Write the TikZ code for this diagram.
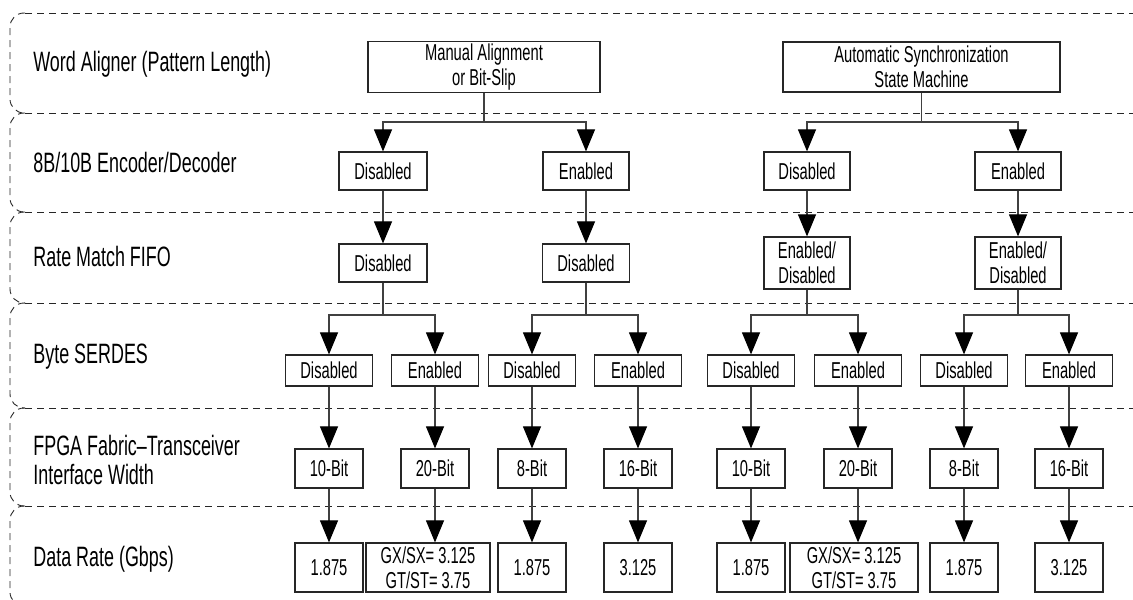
\documentclass[tikz,border=0pt]{standalone}
\usepackage{fontspec}
\setmainfont{Liberation Sans}[FakeStretch=0.64]
\usetikzlibrary{arrows.meta}

\tikzset{
  band/.style={dash pattern=on 3.5pt off 2.5pt, line width=0.45pt, black!85, rounded corners=7pt},
  rowlabel/.style={anchor=base west, inner sep=0pt, align=left, font=\fontsize{14}{14.5}\selectfont},
  box/.style={draw=black!85, line width=0.6pt, inner sep=1pt, align=center, font=\fontsize{11.5}{12.5}\selectfont},
  conn/.style={line width=0.55pt, black!75},
  arr/.style={conn, -{Triangle[length=11pt,width=9pt,color=black]}},
}

\begin{document}
\begin{tikzpicture}[x=0.5pt, y=-0.5pt]
\useasboundingbox (0,0) rectangle (1133,599);

% dashed bands
\foreach \t/\b in {13/113,113/212,212/303,303/408,408/506,506/606}
  \draw[band] (25,\t) -- (10,\t) -- (10,\b) -- (25,\b);
\foreach \y in {13,113,212,303,408,506}
  \draw[band] (25,\y) -- (1133,\y);

% row labels
\node[rowlabel] (lwa) at (33,72) {Word Aligner (Pattern Length)};
\node[rowlabel] (lenc) at (33,172) {8B/10B Encoder/Decoder};
\node[rowlabel] (lrm) at (33,266) {Rate Match FIFO};
\node[rowlabel] (lser) at (33,363) {Byte SERDES};
\node[rowlabel, anchor=west] (lfp) at (33,460) {FPGA Fabric--Transceiver\\Interface Width};
\node[rowlabel] (ldr) at (33,566) {Data Rate (Gbps)};

% word aligner
\node[box, minimum width=116pt, minimum height=25pt] (wa1) at (484,67) {Manual Alignment\\or Bit-Slip};
\node[box, minimum width=138.5pt, minimum height=25pt] (wa2) at (921.5,67) {Automatic Synchronization\\State Machine};

% 8B/10B
\node[box, minimum width=44pt, minimum height=19pt] (enc1) at (383,171) {Disabled};
\node[box, minimum width=43pt, minimum height=19pt] (enc2) at (586,171) {Enabled};
\node[box, minimum width=43pt, minimum height=19pt] (enc3) at (807,171) {Disabled};
\node[box, minimum width=43pt, minimum height=19pt] (enc4) at (1018,171) {Enabled};

% rate match
\node[box, minimum width=44pt, minimum height=19pt] (rm1) at (383,263) {Disabled};
\node[box, minimum width=43.5pt, minimum height=19pt] (rm2) at (586,263) {Disabled};
\node[box, minimum width=43pt, minimum height=26pt] (rm3) at (807,263) {Enabled/\\Disabled};
\node[box, minimum width=43pt, minimum height=26pt] (rm4) at (1018,263) {Enabled/\\Disabled};

% byte serdes
\node[box, minimum width=43.5pt, minimum height=15.5pt] (ser1) at (329,370.5) {Disabled};
\node[box, minimum width=43.5pt, minimum height=15.5pt] (ser2) at (435,370.5) {Enabled};
\node[box, minimum width=43.5pt, minimum height=15.5pt] (ser3) at (532,370.5) {Disabled};
\node[box, minimum width=43.5pt, minimum height=15.5pt] (ser4) at (638,370.5) {Enabled};
\node[box, minimum width=43.5pt, minimum height=15.5pt] (ser5) at (751,370.5) {Disabled};
\node[box, minimum width=43.5pt, minimum height=15.5pt] (ser6) at (858,370.5) {Enabled};
\node[box, minimum width=43.5pt, minimum height=15.5pt] (ser7) at (964,370.5) {Disabled};
\node[box, minimum width=43.5pt, minimum height=15.5pt] (ser8) at (1069,370.5) {Enabled};

% interface width
\node[box, minimum width=34pt, minimum height=19.5pt] (fp1) at (329,468.5) {10-Bit};
\node[box, minimum width=34pt, minimum height=19.5pt] (fp2) at (435,468.5) {20-Bit};
\node[box, minimum width=34pt, minimum height=19.5pt] (fp3) at (532,468.5) {8-Bit};
\node[box, minimum width=34pt, minimum height=19.5pt] (fp4) at (638,468.5) {16-Bit};
\node[box, minimum width=34pt, minimum height=19.5pt] (fp5) at (751,468.5) {10-Bit};
\node[box, minimum width=34pt, minimum height=19.5pt] (fp6) at (858,468.5) {20-Bit};
\node[box, minimum width=34pt, minimum height=19.5pt] (fp7) at (964,468.5) {8-Bit};
\node[box, minimum width=34pt, minimum height=19.5pt] (fp8) at (1069,468.5) {16-Bit};

% data rate
\node[box, minimum width=34pt, minimum height=24.5pt] (dr1) at (329,567.5) {1.875};
\node[box, minimum width=62pt, minimum height=24.5pt] (dr2) at (428,567.5) {GX/SX= 3.125\\GT/ST= 3.75};
\node[box, minimum width=34pt, minimum height=24.5pt] (dr3) at (532,567.5) {1.875};
\node[box, minimum width=34pt, minimum height=24.5pt] (dr4) at (638,567.5) {3.125};
\node[box, minimum width=34pt, minimum height=24.5pt] (dr5) at (751,567.5) {1.875};
\node[box, minimum width=64pt, minimum height=24.5pt] (dr6) at (854,567.5) {GX/SX= 3.125\\GT/ST= 3.75};
\node[box, minimum width=34pt, minimum height=24.5pt] (dr7) at (964,567.5) {1.875};
\node[box, minimum width=34pt, minimum height=24.5pt] (dr8) at (1069,567.5) {3.125};

% branches
\coordinate (j1) at (wa1.south |- 0,122);
\coordinate (j2) at (wa2.south |- 0,122);
\coordinate (j3) at (rm1.south |- 0,315);
\coordinate (j4) at (rm2.south |- 0,315);
\coordinate (j5) at (rm3.south |- 0,315);
\coordinate (j6) at (rm4.south |- 0,315);

\draw[conn] (wa1) -- (j1);
\draw[arr] (j1) -| (enc1);
\draw[arr] (j1) -| (enc2);
\draw[conn] (wa2) -- (j2);
\draw[arr] (j2) -| (enc3);
\draw[arr] (j2) -| (enc4);

\draw[arr] (enc1) -- (rm1);
\draw[arr] (enc2) -- (rm2);
\draw[arr] (enc3) -- (rm3);
\draw[arr] (enc4) -- (rm4);

\draw[conn] (rm1) -- (j3);
\draw[arr] (j3) -| (ser1);
\draw[arr] (j3) -| (ser2);
\draw[conn] (rm2) -- (j4);
\draw[arr] (j4) -| (ser3);
\draw[arr] (j4) -| (ser4);
\draw[conn] (rm3) -- (j5);
\draw[arr] (j5) -| (ser5);
\draw[arr] (j5) -| (ser6);
\draw[conn] (rm4) -- (j6);
\draw[arr] (j6) -| (ser7);
\draw[arr] (j6) -| (ser8);

\draw[arr] (ser1) -- (fp1);
\draw[arr] (ser2) -- (fp2);
\draw[arr] (ser3) -- (fp3);
\draw[arr] (ser4) -- (fp4);
\draw[arr] (ser5) -- (fp5);
\draw[arr] (ser6) -- (fp6);
\draw[arr] (ser7) -- (fp7);
\draw[arr] (ser8) -- (fp8);

\draw[arr] (fp1) -- (dr1);
\draw[arr] (fp2) -- (fp2 |- dr2.north);
\draw[arr] (fp3) -- (dr3);
\draw[arr] (fp4) -- (dr4);
\draw[arr] (fp5) -- (dr5);
\draw[arr] (fp6) -- (fp6 |- dr6.north);
\draw[arr] (fp7) -- (dr7);
\draw[arr] (fp8) -- (dr8);

\end{tikzpicture}
\end{document}
